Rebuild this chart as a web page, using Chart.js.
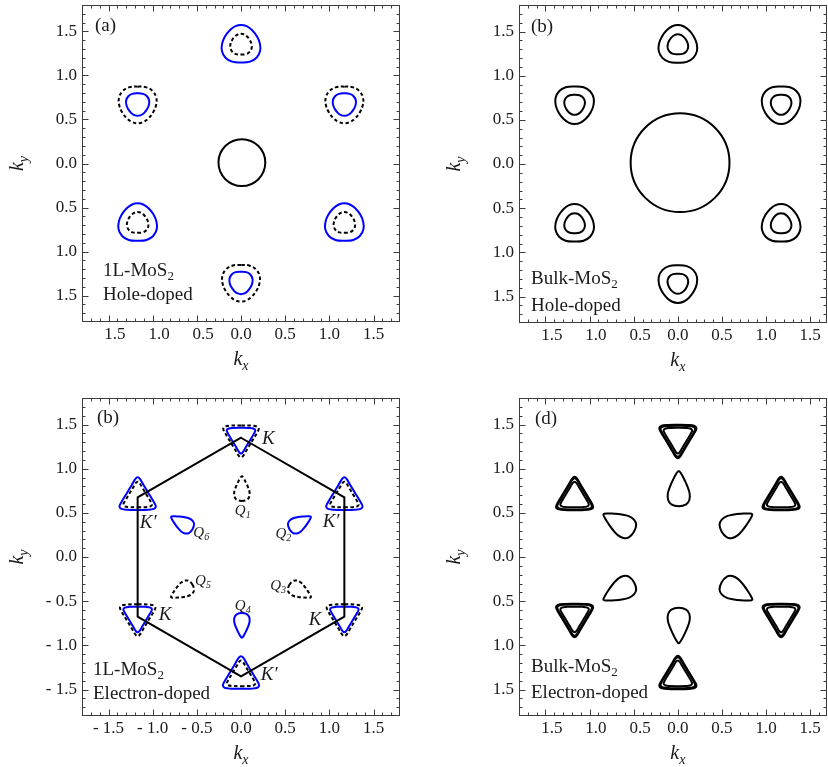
<!DOCTYPE html>
<html>
<head>
<meta charset="utf-8">
<script src="https://cdn.jsdelivr.net/npm/chart.js@4/dist/chart.umd.min.js"></script>
<style>
  html, body { margin: 0; padding: 0; background: #fff; }
  #wrap { position: relative; width: 828px; height: 767px; overflow: hidden; }
  .panel { position: absolute; }
  canvas { display: block; }
</style>
</head>
<body>
<div id="wrap">
  <div class="panel" style="left:0;top:0"><canvas id="pa" width="414" height="380"></canvas></div>
  <div class="panel" style="left:414px;top:0"><canvas id="pb" width="414" height="380"></canvas></div>
  <div class="panel" style="left:0;top:380px"><canvas id="pc" width="414" height="387"></canvas></div>
  <div class="panel" style="left:414px;top:380px"><canvas id="pd" width="414" height="387"></canvas></div>
</div>
<script>
// ---- axes ----
const TICK_VALUES = [-1.5, -1.0, -0.5, 0.0, 0.5, 1.0, 1.5];
const X_RANGE_LEFT = [-1.8, 1.8];
const X_RANGE_RIGHT = [-1.8, 1.69];
const Y_RANGE = [-1.8, 1.8];

// ---- valley positions in k-space ----
const K_CENTERS = [[0, 1.35], [-1.17, -0.675], [1.17, -0.675]];
const KP_CENTERS = [[-1.17, 0.675], [1.17, 0.675], [0, -1.35]];
const Q_CENTERS = [[0.01, 0.775], [0.67, 0.385], [0.67, -0.385], [0.01, -0.775], [-0.67, -0.385], [-0.67, 0.385]];
const Q_ANGLES = [90, 30, -30, -90, -150, 150];

// hexagonal Brillouin zone
const BZ_X = [0, 1.17, 1.17, 0, -1.17, -1.17];
const BZ_Y = [1.35, 0.675, -0.675, -1.35, -0.675, 0.675];

// ---- contour outlines (unit size, apex along +ky) ----
const ROUND_TRI_X = [0, 0.45, 0.78, 0.96, 0.95, 0.8, 0.55, 0.28, 0, -0.28, -0.55, -0.8, -0.95, -0.96, -0.78, -0.45];
const ROUND_TRI_Y = [-0.9, -0.86, -0.66, -0.32, 0.05, 0.42, 0.74, 0.93, 0.99, 0.93, 0.74, 0.42, 0.05, -0.32, -0.66, -0.86];

const SHARP_TRI_X = [0, 0.55, 0.88, 0.98, 0.9, 0.6, 0.3, 0.12, 0, -0.12, -0.3, -0.6, -0.9, -0.98, -0.88, -0.55];
const SHARP_TRI_Y = [-0.68, -0.67, -0.62, -0.5, -0.3, 0.2, 0.7, 1.0, 1.08, 1.0, 0.7, 0.2, -0.3, -0.5, -0.62, -0.67];

const EGG_X = [0, 0.42, 0.6, 0.62, 0.5, 0.32, 0.15, 0, -0.15, -0.32, -0.5, -0.62, -0.6, -0.42];
const EGG_Y = [-1, -0.9, -0.65, -0.3, 0.1, 0.5, 0.82, 1.0, 0.82, 0.5, 0.1, -0.3, -0.65, -0.9];

// ---- pocket sizes ----
// (a) 1L hole-doped
const A_GAMMA = [0.01, 0.01, 0.265];          // centre x, centre y, radius
const A_K_BLUE = 0.225, A_K_DASH = 0.125;
const A_KP_DASH = 0.22, A_KP_BLUE = 0.135;
// (b) bulk hole-doped
const B_GAMMA = [0.025, 0.015, 0.56];
const B_OUTER = 0.225, B_INNER = 0.12;
// (c) 1L electron-doped
const C_K_BLUE = 0.165, C_K_DASH = 0.205;
const C_KP_BLUE = 0.21, C_KP_DASH = 0.165;
const C_Q = 0.14;
const C_Q_DASHED = [true, false, true, false, true, false];
// (d) bulk electron-doped
const D_K_SIZES = [0.215, 0.2, 0.165];
const D_Q = 0.2;

// ---- text ----
const PANEL_LETTERS = ['(a)', '(b)', '(b)', '(d)'];
const NOTES = [
  [[['1L-MoS', 0], ['2', 1]], [['Hole-doped', 0]]],
  [[['Bulk-MoS', 0], ['2', 1]], [['Hole-doped', 0]]],
  [[['1L-MoS', 0], ['2', 1]], [['Electron-doped', 0]]],
  [[['Bulk-MoS', 0], ['2', 1]], [['Electron-doped', 0]]]
];
const VALLEY_LABELS = ['K', 'K\u2032', 'K\u2032', 'K', 'K', 'K\u2032'];
const VALLEY_LABEL_X = [0.31, -1.05, 1.02, -0.86, 0.84, 0.32];
const VALLEY_LABEL_Y = [1.34, 0.38, 0.395, -0.66, -0.71, -1.34];
const Q_LABELS = ['1', '2', '3', '4', '5', '6'];
const Q_LABEL_X = [0.02, 0.48, 0.42, 0.02, -0.43, -0.45];
const Q_LABEL_Y = [0.52, 0.26, -0.33, -0.55, -0.27, 0.27];

const SERIF = "'Liberation Serif', 'Times New Roman', serif";
const BLUE = '#0000ff';
const BLACK = '#000000';
const FRAME = '#3c3c3c';
const TEXT = '#1a1a1a';

// place an outline at a centre with a size and rotation
function outline(tx, ty, cx, cy, size, angleDeg) {
  const a = angleDeg * Math.PI / 180, c = Math.cos(a), s = Math.sin(a);
  return tx.map((u, i) => ({ x: cx + size * (u * c - ty[i] * s), y: cy + size * (u * s + ty[i] * c) }));
}
function contour(points, color, dashed, tension) {
  return {
    data: points, closed: true, showLine: true, fill: false,
    borderColor: color, borderWidth: 2, borderDash: dashed ? [3.5, 2.5] : [],
    pointRadius: 0, tension: tension === undefined ? 0.4 : tension, spanGaps: true
  };
}
function ring(spec) {
  const [cx, cy, r] = spec;
  return {
    data: [{ x: cx, y: cy }], showLine: false,
    pointRadius: ctx => { const s = ctx.chart.scales.x; return Math.abs(s.getPixelForValue(r) - s.getPixelForValue(0)); },
    pointBorderColor: BLACK, pointBorderWidth: 2, pointBackgroundColor: 'rgba(0,0,0,0)'
  };
}

// ---- datasets for each panel ----
const setsA = [ring(A_GAMMA)];
K_CENTERS.forEach(([cx, cy]) => {
  setsA.push(contour(outline(ROUND_TRI_X, ROUND_TRI_Y, cx, cy, A_K_BLUE, 0), BLUE, false));
  setsA.push(contour(outline(ROUND_TRI_X, ROUND_TRI_Y, cx, cy, A_K_DASH, 0), BLACK, true));
});
KP_CENTERS.forEach(([cx, cy]) => {
  setsA.push(contour(outline(ROUND_TRI_X, ROUND_TRI_Y, cx, cy, A_KP_DASH, 180), BLACK, true));
  setsA.push(contour(outline(ROUND_TRI_X, ROUND_TRI_Y, cx, cy, A_KP_BLUE, 180), BLUE, false));
});

const setsB = [ring(B_GAMMA)];
K_CENTERS.forEach(([cx, cy]) => {
  setsB.push(contour(outline(ROUND_TRI_X, ROUND_TRI_Y, cx, cy, B_OUTER, 0), BLACK, false));
  setsB.push(contour(outline(ROUND_TRI_X, ROUND_TRI_Y, cx, cy, B_INNER, 0), BLACK, false));
});
KP_CENTERS.forEach(([cx, cy]) => {
  setsB.push(contour(outline(ROUND_TRI_X, ROUND_TRI_Y, cx, cy, B_OUTER, 180), BLACK, false));
  setsB.push(contour(outline(ROUND_TRI_X, ROUND_TRI_Y, cx, cy, B_INNER, 180), BLACK, false));
});

const setsC = [contour(BZ_X.map((v, i) => ({ x: v, y: BZ_Y[i] })), BLACK, false, 0)];
K_CENTERS.forEach(([cx, cy]) => {
  setsC.push(contour(outline(SHARP_TRI_X, SHARP_TRI_Y, cx, cy, C_K_DASH, 180), BLACK, true, 0.35));
  setsC.push(contour(outline(SHARP_TRI_X, SHARP_TRI_Y, cx, cy, C_K_BLUE, 180), BLUE, false, 0.35));
});
KP_CENTERS.forEach(([cx, cy]) => {
  setsC.push(contour(outline(SHARP_TRI_X, SHARP_TRI_Y, cx, cy, C_KP_BLUE, 0), BLUE, false, 0.35));
  setsC.push(contour(outline(SHARP_TRI_X, SHARP_TRI_Y, cx, cy, C_KP_DASH, 0), BLACK, true, 0.35));
});
Q_CENTERS.forEach(([cx, cy], i) => {
  setsC.push(contour(outline(EGG_X, EGG_Y, cx, cy, C_Q, Q_ANGLES[i] - 90),
    C_Q_DASHED[i] ? BLACK : BLUE, C_Q_DASHED[i]));
});

const setsD = [];
K_CENTERS.forEach(([cx, cy]) => D_K_SIZES.forEach(s =>
  setsD.push(contour(outline(SHARP_TRI_X, SHARP_TRI_Y, cx, cy, s, 180), BLACK, false, 0.35))));
KP_CENTERS.forEach(([cx, cy]) => D_K_SIZES.forEach(s =>
  setsD.push(contour(outline(SHARP_TRI_X, SHARP_TRI_Y, cx, cy, s, 0), BLACK, false, 0.35))));
Q_CENTERS.forEach(([cx, cy], i) =>
  setsD.push(contour(outline(EGG_X, EGG_Y, cx, cy, D_Q, Q_ANGLES[i] - 90), BLACK, false)));

// ---- drawing helpers ----
function richWidth(ctx, parts, size, italic) {
  let w = 0;
  parts.forEach(([t, sub]) => {
    ctx.font = (italic ? 'italic ' : '') + Math.round(sub ? size * 0.68 : size) + 'px ' + SERIF;
    w += ctx.measureText(t).width;
  });
  return w;
}
function drawRich(ctx, parts, x, y, size, italic, align) {
  const w = richWidth(ctx, parts, size, italic);
  let cx = align === 'center' ? x - w / 2 : x;
  ctx.textAlign = 'left';
  ctx.textBaseline = 'middle';
  ctx.fillStyle = TEXT;
  parts.forEach(([t, sub]) => {
    ctx.font = (italic ? 'italic ' : '') + Math.round(sub ? size * 0.68 : size) + 'px ' + SERIF;
    ctx.fillText(t, cx, sub ? y + size * 0.3 : y);
    cx += ctx.measureText(t).width;
  });
}

// closed outlines: make the line element wrap around to its first point
const closedLoop = {
  id: 'closedLoop',
  afterDatasetUpdate(chart, args) {
    const ds = chart.data.datasets[args.index];
    if (!ds || !ds.closed) return;
    const line = args.meta.dataset;
    if (!line) return;
    line._loop = true;
    line._fullLoop = true;
    line._pointsUpdated = false;
    line._path = undefined;
    delete line._segments;
  }
};

const DECOR = {};
const decor = {
  id: 'decor',
  afterDraw(chart) {
    const d = DECOR[chart.canvas.id];
    const { ctx, chartArea: a, scales: { x, y } } = chart;
    ctx.save();
    // frame
    ctx.strokeStyle = FRAME;
    ctx.lineWidth = 1;
    const L = Math.round(a.left) + 0.5, R = Math.round(a.right) - 0.5;
    const T = Math.round(a.top) + 0.5, B = Math.round(a.bottom) - 0.5;
    ctx.strokeRect(L, T, R - L, B - T);
    // inward ticks on all four sides
    ctx.beginPath();
    for (let i = -17; i <= 17; i++) {
      const v = i / 10, len = i % 5 === 0 ? 6 : 3;
      const px = Math.round(x.getPixelForValue(v)) + 0.5;
      if (px > L && px < R) {
        ctx.moveTo(px, B); ctx.lineTo(px, B - len);
        ctx.moveTo(px, T); ctx.lineTo(px, T + len);
      }
      const py = Math.round(y.getPixelForValue(v)) + 0.5;
      if (py > T && py < B) {
        ctx.moveTo(L, py); ctx.lineTo(L + len, py);
        ctx.moveTo(R, py); ctx.lineTo(R - len, py);
      }
    }
    ctx.stroke();
    // axis titles
    drawRich(ctx, [['k', 0], ['x', 1]], x.getPixelForValue(0), a.bottom + 38, 20, true, 'center');
    ctx.save();
    ctx.translate(a.left - 64, y.getPixelForValue(0));
    ctx.rotate(-Math.PI / 2);
    drawRich(ctx, [['k', 0], ['y', 1]], 0, 0, 20, true, 'center');
    ctx.restore();
    // panel letter and description
    drawRich(ctx, [[d.letter, 0]], a.left + d.letterDx, a.top + d.letterDy, 19, false, 'left');
    drawRich(ctx, d.notes[0], a.left + d.noteDx, a.bottom - d.noteDy[0], 19, false, 'left');
    drawRich(ctx, d.notes[1], a.left + d.noteDx, a.bottom - d.noteDy[1], 19, false, 'left');
    // valley labels
    if (d.valleys) {
      VALLEY_LABELS.forEach((t, i) => drawRich(ctx, [[t, 0]],
        x.getPixelForValue(VALLEY_LABEL_X[i]), y.getPixelForValue(VALLEY_LABEL_Y[i]), 19, true, 'center'));
      Q_LABELS.forEach((t, i) => drawRich(ctx, [['Q', 0], [t, 1]],
        x.getPixelForValue(Q_LABEL_X[i]), y.getPixelForValue(Q_LABEL_Y[i]), 15, true, 'center'));
    }
    ctx.restore();
  }
};

function tickText(v, signed) {
  const t = Math.abs(v).toFixed(1);
  if (v < 0) return signed ? '- ' + t : '\u2002 ' + t;
  return t;
}

function makePanel(id, datasets, o) {
  DECOR[id] = o;
  return new Chart(document.getElementById(id), {
    type: 'line',
    data: { datasets },
    options: {
      responsive: false,
      animation: false,
      events: [],
      layout: { padding: o.padding },
      plugins: { legend: { display: false }, tooltip: { enabled: false } },
      scales: {
        x: {
          type: 'linear', min: o.xRange[0], max: o.xRange[1],
          afterBuildTicks: s => { s.ticks = TICK_VALUES.map(v => ({ value: v })); },
          afterFit: s => { s.height = o.xAxisH; s.paddingLeft = 0; s.paddingRight = 0; },
          grid: { display: false, drawTicks: false }, border: { display: false },
          ticks: { font: { family: SERIF, size: 17 }, color: TEXT, padding: 2, maxRotation: 0, autoSkip: false,
                   callback: v => tickText(v, o.signed) }
        },
        y: {
          type: 'linear', min: Y_RANGE[0], max: Y_RANGE[1],
          afterBuildTicks: s => { s.ticks = TICK_VALUES.map(v => ({ value: v })); },
          afterFit: s => { s.width = o.yAxisW; s.paddingTop = 0; s.paddingBottom = 0; },
          grid: { display: false, drawTicks: false }, border: { display: false },
          ticks: { font: { family: SERIF, size: 17 }, color: TEXT, padding: 5, autoSkip: false,
                   callback: v => o.signed ? tickText(v, true) : Math.abs(v).toFixed(1) }
        }
      }
    },
    plugins: [closedLoop, decor]
  });
}

makePanel('pa', setsA, {
  xRange: X_RANGE_LEFT, padding: { top: 5, right: 14, left: 0, bottom: 0 }, yAxisW: 82, xAxisH: 58,
  signed: false, letter: PANEL_LETTERS[0], letterDx: 13, letterDy: 21,
  notes: NOTES[0], noteDx: 21, noteDy: [51, 27]
});
makePanel('pb', setsB, {
  xRange: X_RANGE_RIGHT, padding: { top: 5, right: 1, left: 0, bottom: 0 }, yAxisW: 105, xAxisH: 57,
  signed: false, letter: PANEL_LETTERS[1], letterDx: 12, letterDy: 22,
  notes: NOTES[1], noteDx: 12, noteDy: [44, 17]
});
makePanel('pc', setsC, {
  xRange: X_RANGE_LEFT, padding: { top: 18, right: 14, left: 0, bottom: 0 }, yAxisW: 82, xAxisH: 51,
  signed: true, letter: PANEL_LETTERS[2], letterDx: 15, letterDy: 20,
  notes: NOTES[2], noteDx: 11, noteDy: [46, 22], valleys: true
});
makePanel('pd', setsD, {
  xRange: X_RANGE_RIGHT, padding: { top: 18, right: 1, left: 0, bottom: 0 }, yAxisW: 105, xAxisH: 51,
  signed: false, letter: PANEL_LETTERS[3], letterDx: 16, letterDy: 21,
  notes: NOTES[3], noteDx: 12, noteDy: [49, 23]
});
</script>
</body>
</html>
